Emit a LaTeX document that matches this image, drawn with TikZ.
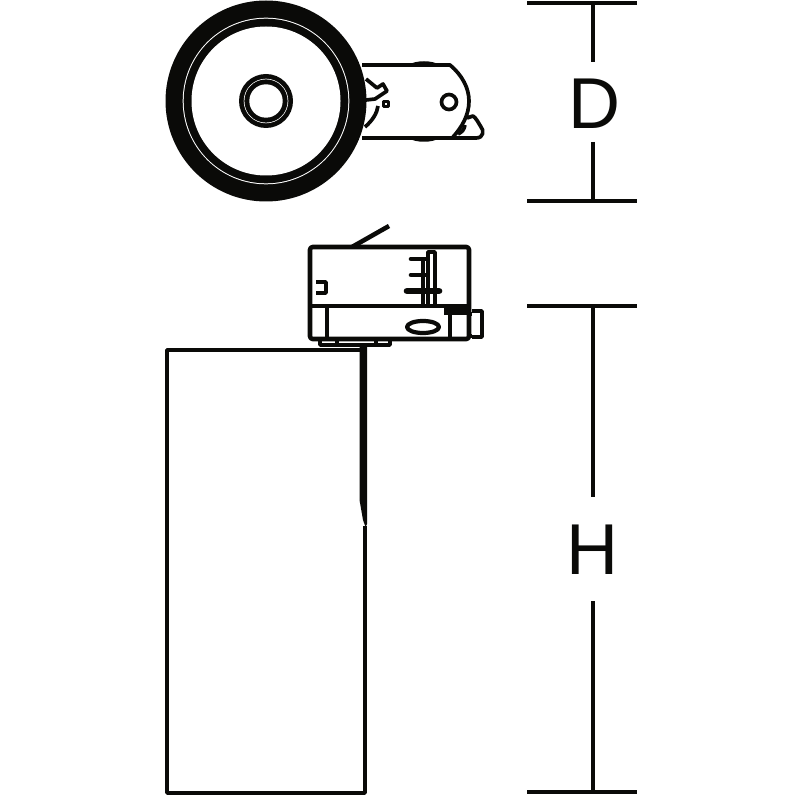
\documentclass[tikz,border=0pt]{standalone}
\usepackage{fontspec}
\setmainfont{Liberation Sans}
\definecolor{ink}{HTML}{0A0A08}
\tikzset{
  outline/.style={draw=ink,line width=2.1pt,line join=round},
  thin outline/.style={draw=ink,line width=1.4pt,line join=round},
  dimline/.style={draw=ink,line width=2pt},
  dimlabel/.style={text=ink,font=\fontsize{41}{41}\selectfont,inner sep=0pt}
}
\begin{document}
\begin{tikzpicture}[x=0.02cm,y=-0.02cm]
\useasboundingbox (0,0) rectangle (800,800);
% top view: lamp head
\fill[ink] (266,101) circle (100.5);
\fill[white] (266,101) circle (83.3);
\fill[ink] (266,101) circle (82.3);
\fill[white] (266,101) circle (74.5);
\fill[ink] (266,101) circle (27);
\fill[white] (266,101) circle (22.3);
\fill[ink] (266,101) circle (21.6);
\fill[white] (266,101) circle (16.7);
% top view: adapter
\fill[ink] (408,65) .. controls (416,60) and (432,60) .. (440,65) -- cycle;
\fill[ink] (408,138) .. controls (416,143) and (432,143) .. (440,138) -- cycle;
\draw[outline] (362,65) -- (450,65) .. controls (462,75) and (469,88) .. (469,101)
  .. controls (469,115) and (462,127) .. (453,137) (362,138) -- (476,138)
  .. controls (484,138) and (484,130) .. (481,127) .. controls (478,122) and (476,118) .. (473,116) -- (467,118);
\draw[outline] (365,127) .. controls (373,120) and (377,113) .. (378,106);
\draw[outline] (366,79) -- (377,88) -- (383,84) -- (387,91) -- (375,99) -- (366,100);
\draw[outline] (465,125) .. controls (464,130) and (462,132) .. (458,134);
\draw[outline] (449,102) circle (7.5);
\draw[outline,fill=white] (383.5,101.5) rectangle (388.5,106.5);
% top dimension
\coordinate (dtop) at (593,3);
\coordinate (dbot) at (593,201);
\node[dimlabel] (dlabel) at (594,104) {D};
\draw[dimline] (527,3) -- (637,3) (527,201) -- (637,201);
\draw[dimline] (dtop) -- (593,62) (593,142) -- (dbot);
% side view: adapter
\draw[outline,line width=2.6pt,rounded corners=1.5pt] (310,339) -- (310,247) -- (469,247) -- (469,339) -- cycle;
\draw[outline,line width=2.4pt] (310,306) -- (469,306);
\draw[outline,line width=2.6pt] (352,247) -- (389,226);
\draw[outline] (316,282) -- (326,282) -- (326,293) -- (316,293);
\draw[outline] (423,258) -- (423,306);
\draw[outline] (428,306) -- (428,252) -- (435,252) -- (435,306);
\draw[outline,line width=2.6pt,line cap=round] (411,259) -- (427,259) (411,275) -- (427,275);
\draw[outline,line width=3.8pt,line cap=round] (407,291) -- (439,291);
\draw[outline] (327,306) -- (327,339);
\draw[outline,line width=2.4pt] (423,327) ellipse (16 and 6);
\draw[outline] (450,312) -- (450,339);
\fill[ink] (444,308) rectangle (469,315);
\draw[outline] (472,311) -- (482,311) -- (482,337) -- (472,337);
\draw[outline,line width=2.4pt] (469,314) -- (472,314) (469,336) -- (472,336);
\draw[outline] (320,340) -- (320,345) -- (390,345) -- (390,340);
\draw[outline] (337,341) -- (337,346) (376,341) -- (376,345);
% side view: body
\draw[outline] (365,526) -- (365,793) -- (167,793) -- (167,350) -- (360,350);
\fill[ink] (359.5,345) -- (367,345) -- (367,524) -- (365.5,527) -- (363,520) -- (359.5,500) -- cycle;
% height dimension
\coordinate (htop) at (593,306);
\coordinate (hbot) at (593,792);
\node[dimlabel] (hlabel) at (592,550) {H};
\draw[dimline] (527,306) -- (637,306) (527,792) -- (637,792);
\draw[dimline] (htop) -- (593,497) (593,601) -- (hbot);
\end{tikzpicture}
\end{document}
